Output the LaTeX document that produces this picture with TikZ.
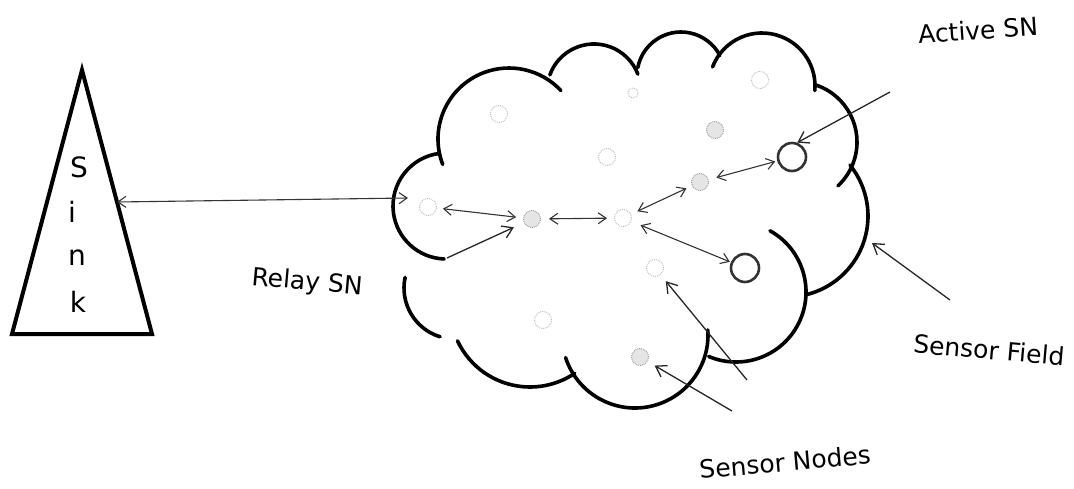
\documentclass[tikz,border=0pt]{standalone}
\usepackage{fontspec}
\setmainfont{DejaVu Sans}
\usetikzlibrary{arrows.meta}
\begin{document}
\begin{tikzpicture}[x=1pt,y=1pt,
  cloudline/.style={line width=3.6pt, line cap=round, draw=black},
  sn/.style={circle, draw=gray!55, densely dotted, line width=0.9pt, inner sep=0pt, minimum size=17pt},
  snd/.style={sn, draw=gray!80, fill=gray!20},
  activesn/.style={circle, draw=black!80, line width=2.6pt, inner sep=0pt, minimum size=28pt},
  link/.style={draw=black!80, line width=1.1pt, {Straight Barb[length=8pt,width=11pt]}-{Straight Barb[length=8pt,width=11pt]}},
  pointer/.style={draw=black!85, line width=1.3pt, -{Straight Barb[length=10pt,width=13pt]}},
  lbl/.style={font=\fontsize{25}{30}\selectfont, inner sep=0pt},
  sinkletter/.style={font=\fontsize{28}{30}\selectfont, inner sep=0pt},
]
\useasboundingbox (0,0) rectangle (1074,488);

% Sink triangle
\draw[line width=4pt, line join=miter] (82,418) -- (12,154) -- (152,154) -- cycle;
\node[sinkletter] (s1) at (79,321) {S};
\node[sinkletter] (s2) at (72,276) {i};
\node[sinkletter] (s3) at (77,230) {n};
\node[sinkletter] (s4) at (78,186) {k};
\coordinate (sinkR) at (117,286);

% Cloud (sensor field)
\draw[cloudline] (446,282) ++(97:53) arc[start angle=97, end angle=268, radius=53];
\draw[cloudline] (509,349) ++(201:71) arc[start angle=201, end angle=43, radius=71];
\draw[cloudline] (594,397) ++(160:47) arc[start angle=160, end angle=21, radius=47];
\draw[cloudline] (681,412) ++(169:44) arc[start angle=169, end angle=28, radius=44];
\draw[cloudline] (762,402) ++(159:53) arc[start angle=159, end angle=-5, radius=53];
\draw[cloudline] (797,346) ++(72:60) arc[start angle=72, end angle=-47, radius=60];
\draw[cloudline] (787,272) ++(39:81) arc[start angle=39, end angle=-76, radius=81];
\draw[cloudline] (736,196) ++(61:70) arc[start angle=61, end angle=-113, radius=70];
\draw[cloudline] (635,153) ++(198:73) arc[start angle=198, end angle=364, radius=73];
\draw[cloudline] (530,181) ++(205:80) arc[start angle=205, end angle=304, radius=80];
\draw[cloudline] (455,200) ++(168:51) arc[start angle=168, end angle=253, radius=51];
\coordinate (cloudL) at (408,290);

% Sensor nodes
\node[sn] (n1) at (428,281) {};
\node[snd] (n2) at (532,269) {};
\node[sn] (n3) at (623,270) {};
\node[sn] (nt) at (607,331) {};
\node[sn] (nb) at (655,220) {};
\node[snd] (na) at (700,306) {};
\node[snd] (nu) at (715,358) {};
\node[sn] (nc) at (760,408) {};
\node[sn, minimum size=10pt] (nd) at (633,395) {};
\node[sn] (ne) at (499,374) {};
\node[sn] (nf) at (543,168) {};
\node[snd] (ng) at (640,131) {};
\node[activesn] (A1) at (792,331) {};
\node[activesn] (A2) at (745,220) {};

% Links
\draw[link] (sinkR) -- (cloudL);
\draw[link, shorten <=6pt, shorten >=7pt] (n1) -- (n2);
\draw[link, shorten <=8pt, shorten >=7pt] (n2) -- (n3);
\draw[link, shorten <=7pt, shorten >=6pt] (n3) -- (na);
\draw[link, shorten <=8pt, shorten >=2pt] (na) -- (A1);
\draw[link, shorten <=10pt, shorten >=1pt] (n3) -- (A2);

% Labels and pointers
\node[lbl, rotate=4] (lActive) at (978,458) {Active SN};
\coordinate (activeTail) at (890,396);
\draw[pointer] (activeTail) -- (A1.70);

\node[lbl, rotate=-5] (lRelay) at (307,205) {Relay SN};
\coordinate (relayTail) at (447,230);
\draw[pointer, shorten >=11pt] (relayTail) -- (n2);

\node[lbl, rotate=-5] (lField) at (989,138) {Sensor Field};
\coordinate (fieldTail) at (950,188);
\coordinate (fieldTip) at (872,245);
\draw[pointer] (fieldTail) -- (fieldTip);

\node[lbl, rotate=5] (lNodes) at (785,26) {Sensor Nodes};
\coordinate (nodesTailA) at (747,108);
\coordinate (nodesTailB) at (732,77);
\draw[pointer, shorten >=8pt] (nodesTailA) -- (nb);
\draw[pointer, shorten >=8pt] (nodesTailB) -- (ng);
\end{tikzpicture}
\end{document}
